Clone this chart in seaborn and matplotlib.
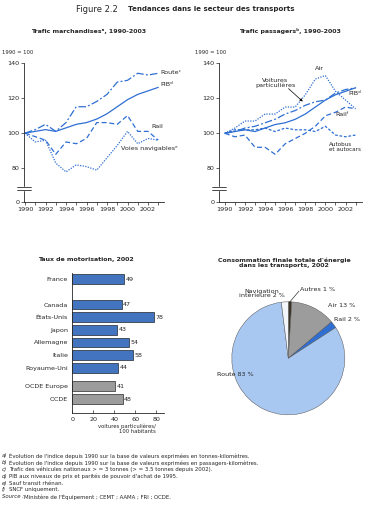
import numpy as np
import pandas as pd
import matplotlib
matplotlib.use("Agg")
import matplotlib.pyplot as plt
import seaborn as sns

# ---- data ----
years = list(range(1990, 2004))
pib = [100, 101, 102, 101, 103, 105, 106, 108, 111, 115, 119, 122, 124, 126]
# freight
route = [100, 102, 105, 101, 106, 115, 115, 118, 122, 129, 130, 134, 133, 134]
rail_m = [100, 98, 96, 88, 95, 94, 97, 106, 106, 105, 110, 101, 101, 96]
voies = [100, 95, 96, 83, 78, 82, 81, 79, 86, 93, 101, 94, 97, 96]
# passengers
voitures = [100, 101, 103, 104, 106, 108, 111, 113, 116, 118, 119, 123, 125, 126]
air = [100, 103, 107, 107, 111, 111, 115, 115, 122, 131, 133, 124, 119, 114]
rail_p = [100, 98, 99, 92, 92, 88, 94, 97, 100, 104, 110, 112, 115, 114]
autobus = [100, 102, 102, 102, 103, 101, 103, 102, 102, 101, 104, 99, 98, 99]

pays = ["France", "Canada", "États-Unis", "Japon", "Allemagne", "Italie",
        "Royaume-Uni", "OCDE Europe", "OCDE"]
taux = [49, 47, 78, 43, 54, 58, 44, 41, 48]
groupe = ["pays"] * 7 + ["ocde"] * 2
bar_pos = [0, 2, 3, 4, 5, 6, 7, 8.45, 9.5]

secteurs = ["Autres", "Air", "Rail", "Route", "Navigation"]
parts = [1, 13, 2, 83, 2]

BLUE = "#2f6fd3"
LIGHT = "#a8c8f2"
GRAY = "#9c9c9c"

sns.set_style("ticks")
plt.rcParams["font.family"] = ["Liberation Sans Narrow", "DejaVu Sans"]
plt.rcParams["axes.linewidth"] = 0.6
plt.rcParams["xtick.major.width"] = 0.5
plt.rcParams["ytick.major.width"] = 0.5
plt.rcParams["xtick.minor.width"] = 0.5

W, H = 365, 512
fig = plt.figure(figsize=(W / 100, H / 100), dpi=100)
renderer = fig.canvas.get_renderer()


def px_axes(l, t, r, b):
    return fig.add_axes([l / W, 1 - b / H, (r - l) / W, (b - t) / H])


def fit(txt, width_px):
    # scale a text's font size so it is width_px wide
    for _ in range(2):
        w = txt.get_window_extent(renderer).width
        txt.set_fontsize(txt.get_fontsize() * width_px / w)
    return txt.get_fontsize()


FS = 4.6


def line_axes(ax, x0):
    ax.set_xlim(x0, 2003.6)
    ax.set_ylim(60.9, 140)
    ax.set_xticks(range(1990, 2003, 2))
    ax.set_xticks(range(1990, 2004), minor=True)
    ax.set_yticks([60.9, 80, 100, 120, 140])
    ax.set_yticklabels(["0", "80", "100", "120", "140"])
    ax.tick_params(labelsize=FS, length=2, pad=1.5)
    ax.tick_params(which="minor", length=2)
    sns.despine(ax=ax)
    ax.set_xlabel("")
    ax.set_ylabel("")
    tr = ax.get_yaxis_transform()
    ax.fill_between([-0.05, 0.05], [67.6, 67.6], [69.3, 69.3], transform=tr,
                    color="white", clip_on=False, zorder=5)
    for yv in (67.6, 69.3):
        ax.plot([-0.05, 0.05], [yv, yv], transform=tr, color="black", lw=0.5,
                clip_on=False, zorder=6)


DASHDOT = (0, (6, 1.8, 1.5, 1.8))
DASHED = (0, (4, 2.2))
DOTTED = (0, (1, 1.1))
SHORT = (0, (2.2, 1.4))

# ---- freight ----
ax1 = px_axes(24, 62.7, 164.4, 202)
for vals, ls in [(route, DASHDOT), (pib, "-"), (rail_m, DASHED), (voies, DOTTED)]:
    sns.lineplot(x=years, y=vals, ax=ax1, color=BLUE, lw=0.9, linestyle=ls)
line_axes(ax1, 1989.9)
ax1.text(2003.17, 134.5, "Routeᶜ", fontsize=FS, va="center")
ax1.text(2003.17, 127.5, "PIBᵈ", fontsize=FS, va="center")
ax1.text(2002.36, 104, "Rail", fontsize=FS, va="center")
ax1.text(1999.33, 91.4, "Voies navigablesᵉ", fontsize=FS, va="center",
         bbox=dict(fc="white", ec="none", pad=0.2))

# ---- passengers ----
ax2 = px_axes(219.3, 63.3, 361.6, 201.7)
for vals, ls in [(voitures, DASHDOT), (pib, "-"), (air, DOTTED), (rail_p, DASHED),
                 (autobus, SHORT)]:
    sns.lineplot(x=years, y=vals, ax=ax2, color=BLUE, lw=0.9, linestyle=ls)
line_axes(ax2, 1989.45)
ax2.text(1999.44, 137.1, "Air", fontsize=FS, ha="center", va="center")
ax2.text(1995.04, 128.9, "Voitures\nparticulières", fontsize=FS, ha="center",
         va="center", linespacing=0.9)
ax2.annotate("", xy=(1997.95, 117.1), xytext=(1996.13, 126.6),
             arrowprops=dict(arrowstyle="-|>", color="black", lw=0.5,
                             mutation_scale=4))
ax2.text(2002.26, 122.9, "PIBᵈ", fontsize=FS, va="center")
ax2.text(2001.03, 110.5, "Railᶠ", fontsize=FS, va="center")
ax2.text(2000.35, 92, "Autobus\net autocars", fontsize=4.1, va="center",
         linespacing=0.9)

fig.text(1.7 / W, 1 - 53 / H, "1990 = 100", fontsize=3.8, va="center")
fig.text(195 / W, 1 - 53 / H, "1990 = 100", fontsize=3.8, va="center")

# ---- bars ----
ax3 = px_axes(72.3, 272.7, 163.6, 412.7)
df = pd.DataFrame({"pays": pays, "taux": taux, "groupe": groupe, "pos": bar_pos})
sns.barplot(data=df, x="taux", y="pos", hue="groupe", orient="y", native_scale=True,
            palette={"pays": BLUE, "ocde": GRAY}, edgecolor="black", linewidth=0.4,
            width=0.78, legend=False, ax=ax3)
ax3.set_xlim(0, 87)
ax3.set_ylim(10.56, -0.52)
ax3.set_yticks(bar_pos)
ax3.set_yticklabels(pays)
ax3.set_xticks([0, 20, 40, 60, 80])
ax3.tick_params(axis="y", length=0, labelsize=FS, pad=3)
ax3.tick_params(axis="x", direction="in", length=2, labelsize=FS, pad=3)
sns.despine(ax=ax3)
ax3.set_ylabel("")
ax3.set_xlabel("voitures particulières/\n100 habitants", fontsize=3.8, ha="right",
              linespacing=1.0)
ax3.xaxis.set_label_coords(0.92, -0.08)
for p, v in zip(bar_pos, taux):
    ax3.text(v + 1.5, p, str(v), fontsize=FS, va="center")

# ---- pie ----
R = 56.5
cx, cy = 288.3, 358.3
ax4 = px_axes(cx - R, cy - R, cx + R, cy + R)
ax4.pie(parts, colors=["#3a3326", GRAY, BLUE, LIGHT, "#f2f6fb"], startangle=90,
        counterclock=False, radius=1,
        wedgeprops=dict(edgecolor="#555555", linewidth=0.35))
ax4.set_xlim(-1, 1)
ax4.set_ylim(-1, 1)
ax4.set_aspect("equal")
ax4.axis("off")
ax4.text(-0.47, 1.15, "Navigation\nintérieure 2 %", fontsize=FS, ha="center",
         va="center", linespacing=0.9)
ax4.text(0.21, 1.22, "Autres 1 %", fontsize=FS, va="center")
ax4.plot([0.19, 0.02], [1.19, 0.99], color="black", lw=0.4, clip_on=False)
ax4.text(0.70, 0.94, "Air 13 %", fontsize=FS, va="center")
ax4.text(0.81, 0.69, "Rail 2 %", fontsize=FS, va="center")
ax4.text(-1.27, -0.28, "Route 83 %", fontsize=FS, va="center")

# ---- titles ----
t = fig.text(76 / W, 1 - 9 / H, "Figure 2.2", fontsize=5.5, va="center")
fit(t, 42)
t = fig.text(128 / W, 1 - 9 / H, "Tendances dans le secteur des transports",
             fontsize=5.5, fontweight="bold", va="center")
fit(t, 164)
t = fig.text(89 / W, 1 - 31 / H, "Trafic marchandisesᵃ, 1990-2003", fontsize=4.6,
             fontweight="bold", ha="center", va="center")
TS = fit(t, 116)
fig.text(290 / W, 1 - 31 / H, "Trafic passagersᵇ, 1990-2003", fontsize=TS,
         fontweight="bold", ha="center", va="center")
fig.text(85.5 / W, 1 - 259 / H, "Taux de motorisation, 2002", fontsize=TS,
         fontweight="bold", ha="center", va="center")
fig.text(284 / W, 1 - 262.5 / H,
         "Consommation finale totale d'énergie\ndans les transports, 2002",
         fontsize=TS, fontweight="bold", ha="center", va="center", linespacing=1.0)

notes = [
    ("a)", "Évolution de l'indice depuis 1990 sur la base de valeurs exprimées en tonnes-kilomètres."),
    ("b)", "Évolution de l'indice depuis 1990 sur la base de valeurs exprimées en passagers-kilomètres."),
    ("c)", "Trafic des véhicules nationaux > = 3 tonnes (> = 3.5 tonnes depuis 2002)."),
    ("d)", "PIB aux niveaux de prix et parités de pouvoir d'achat de 1995."),
    ("e)", "Sauf transit rhénan."),
    ("f)", "SNCF uniquement."),
]
NS = 3.9
y0 = 455.7
for i, (k, txt) in enumerate(notes):
    yy = 1 - (y0 + i * 6.85) / H
    fig.text(1.7 / W, yy, k, fontsize=NS, style="italic", va="center")
    t = fig.text(9.3 / W, yy, txt, fontsize=NS, va="center")
    if i == 0:
        NS = fit(t, 241)
yy = 1 - (y0 + 6 * 6.85) / H
fig.text(1.7 / W, yy, "Source :", fontsize=NS, style="italic", va="center")
fig.text(24 / W, yy, "Ministère de l'Équipement ; CEMT ; AAMA ; FRI ; OCDE.",
         fontsize=NS, va="center")

fig.savefig("out.png", dpi=100)
